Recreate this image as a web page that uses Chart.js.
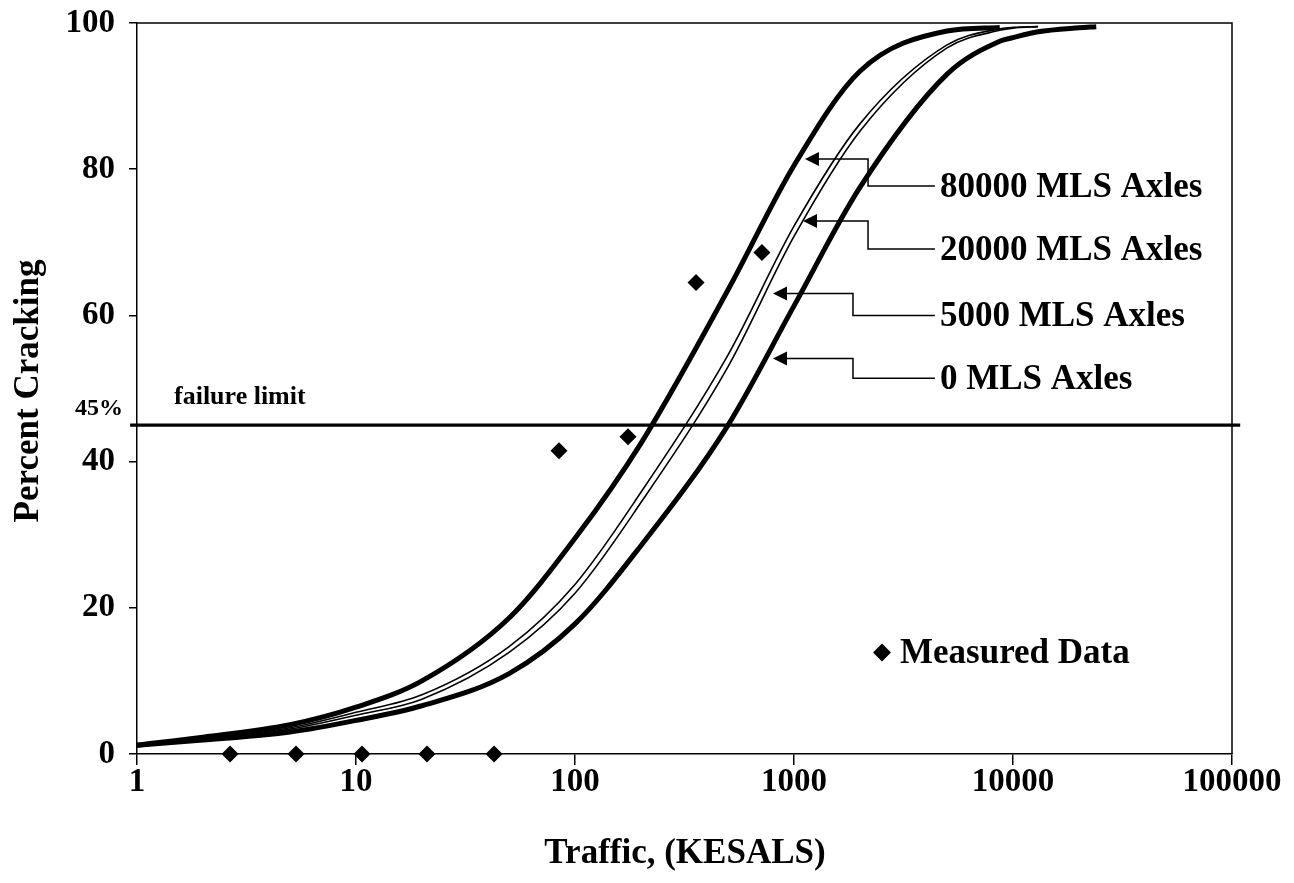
<!DOCTYPE html>
<html>
<head>
<meta charset="utf-8">
<title>Percent Cracking vs Traffic</title>
<script src="https://cdn.jsdelivr.net/npm/chart.js@4.4.0/dist/chart.umd.min.js"></script>
<style>
    html, body { margin: 0; padding: 0; background: #fff; }
    #wrap { width: 1294px; height: 883px; }
</style>
</head>
<body>
<div id="wrap"><canvas id="chart" width="1294" height="883"></canvas></div>
<script>
// ── Data ─────────────────────────────────────────────────────
const traffic       = [1, 2, 5, 10, 20, 50, 100, 200, 500, 1000, 2000, 5000, 8700, 10000, 13000, 20000, 24000];
const cracking80000 = [1.2, 2.3, 4.0, 6.4, 10.0, 18.6, 29.5, 42.5, 63.5, 80.5, 93.4, 98.9, 99.4, null, null, null, null];
const cracking20000 = [1.2, 2.05, 3.6, 5.7, 8.1, 14.7, 23.2, 35.8, 54.6, 72.2, 86.2, 97.0, 99.2, 99.4, 99.5, null, null];
const cracking5000  = [1.2, 1.95, 3.4, 5.3, 7.5, 13.9, 22.0, 34.4, 53.0, 70.8, 85.2, 96.6, 99.0, 99.3, 99.5, null, null];
const cracking0     = [1.2, 1.9, 3.0, 4.6, 6.6, 11.0, 17.8, 28.5, 45.0, 61.3, 77.5, 93.0, 97.5, 98.0, 98.8, 99.35, 99.5];

const measuredTraffic  = [2.66, 5.32, 10.65, 21.1, 42.7, 84.5, 174.6, 357, 714];
const measuredCracking = [0, 0, 0, 0, 0, 41.5, 43.4, 64.5, 68.6];

const failureTraffic = [0.93, 109000];
const failureLimit   = [45, 45];

const xTicks = [1, 10, 100, 1000, 10000, 100000];
const yTicks = [0, 20, 40, 60, 80, 100];

// callouts: arrow tip (traffic, %), elbow traffic, label level (%)
const callouts = [
    { text: '80000 MLS Axles', tip: [1122, 81.4], elbow: 2178, level: 77.7 },
    { text: '20000 MLS Axles', tip: [1099, 72.9], elbow: 2178, level: 69.1 },
    { text: '5000 MLS Axles',  tip: [802, 63.0],  elbow: 1859, level: 60.0 },
    { text: '0 MLS Axles',     tip: [802, 54.1],  elbow: 1859, level: 51.4 }
];
const labelStartTraffic = 4400;
const legendAt = [2523, 13.9];

// ── Helpers ──────────────────────────────────────────────────
const SERIF = "'Liberation Serif', 'Times New Roman', serif";

function pts(xs, ys) {
    return xs.map((x, i) => ({ x: x, y: ys[i] }));
}

function curve(label, values, width) {
    return {
        label: label,
        data: pts(traffic, values),
        borderColor: '#000',
        borderWidth: width,
        pointRadius: 0,
        fill: false,
        cubicInterpolationMode: 'monotone',
        clip: false
    };
}

function diamond(ctx, x, y, r) {
    ctx.beginPath();
    ctx.moveTo(x, y - r);
    ctx.lineTo(x + r, y);
    ctx.lineTo(x, y + r);
    ctx.lineTo(x - r, y);
    ctx.closePath();
    ctx.fill();
}

// ── Extras: frame, titles, failure text, callouts, legend ────
const extras = {
    id: 'extras',
    afterDatasetsDraw(chart) {
        const ctx = chart.ctx;
        const a = chart.chartArea;
        const xs = chart.scales.x, ys = chart.scales.y;
        ctx.save();
        ctx.fillStyle = '#000';
        ctx.strokeStyle = '#000';

        // top + right frame
        ctx.lineWidth = 1.5;
        ctx.beginPath();
        ctx.moveTo(a.left, a.top);
        ctx.lineTo(a.right, a.top);
        ctx.lineTo(a.right, a.bottom);
        ctx.stroke();

        // failure limit text
        const yf = ys.getPixelForValue(45);
        ctx.font = 'bold 26px ' + SERIF;
        ctx.textBaseline = 'alphabetic';
        ctx.textAlign = 'left';
        ctx.fillText('failure limit', a.left + 37, yf - 21);
        ctx.font = 'bold 24px ' + SERIF;
        ctx.textAlign = 'right';
        ctx.fillText('45%', a.left - 14, yf - 10);

        // callouts
        const xLab = xs.getPixelForValue(labelStartTraffic);
        ctx.lineWidth = 1.5;
        ctx.font = 'bold 35px ' + SERIF;
        ctx.textAlign = 'left';
        ctx.textBaseline = 'middle';
        callouts.forEach(c => {
            const tx = xs.getPixelForValue(c.tip[0]);
            const ty = ys.getPixelForValue(c.tip[1]);
            const ex = xs.getPixelForValue(c.elbow);
            const ly = ys.getPixelForValue(c.level);
            ctx.beginPath();
            ctx.moveTo(tx + 12, ty);
            ctx.lineTo(ex, ty);
            ctx.lineTo(ex, ly);
            ctx.lineTo(xLab, ly);
            ctx.stroke();
            ctx.beginPath();
            ctx.moveTo(tx, ty);
            ctx.lineTo(tx + 14, ty - 7);
            ctx.lineTo(tx + 14, ty + 7);
            ctx.closePath();
            ctx.fill();
            ctx.fillText(c.text, xLab + 5, ly + 2);
        });

        // legend
        const lx = xs.getPixelForValue(legendAt[0]);
        const ly = ys.getPixelForValue(legendAt[1]);
        diamond(ctx, lx, ly, 9);
        ctx.fillText('Measured Data', lx + 18, ly + 2);

        // axis titles
        ctx.font = 'bold 35px ' + SERIF;
        ctx.textAlign = 'center';
        ctx.fillText('Traffic, (KESALS)', 685, 854);
        ctx.translate(29, 391);
        ctx.rotate(-Math.PI / 2);
        ctx.fillText('Percent Cracking', 0, 0);
        ctx.restore();
    }
};

// ── Chart ────────────────────────────────────────────────────
new Chart(document.getElementById('chart'), {
    type: 'line',
    data: {
        datasets: [
            curve('80000 MLS Axles', cracking80000, 5),
            curve('20000 MLS Axles', cracking20000, 1.6),
            curve('5000 MLS Axles', cracking5000, 1.6),
            curve('0 MLS Axles', cracking0, 5),
            {
                label: 'failure limit',
                data: pts(failureTraffic, failureLimit),
                borderColor: '#000',
                borderWidth: 3.2,
                pointRadius: 0,
                clip: false
            },
            {
                label: 'Measured Data',
                data: pts(measuredTraffic, measuredCracking),
                showLine: false,
                pointStyle: 'rectRot',
                pointRadius: 8.5,
                backgroundColor: '#000',
                borderColor: '#000',
                borderWidth: 0,
                clip: false
            }
        ]
    },
    options: {
        responsive: false,
        animation: false,
        layout: { padding: { top: 23, right: 62, left: 0, bottom: 0 } },
        plugins: { legend: { display: false }, tooltip: { enabled: false } },
        scales: {
            x: {
                type: 'logarithmic',
                min: 1,
                max: 100000,
                afterBuildTicks: s => { s.ticks = xTicks.map(v => ({ value: v })); },
                afterFit: s => { s.height = 129; s.paddingLeft = 0; s.paddingRight = 0; },
                ticks: {
                    callback: v => String(v),
                    color: '#000',
                    font: { family: SERIF, size: 33, weight: 'bold' },
                    maxRotation: 0,
                    autoSkip: false,
                    padding: -2
                },
                grid: { drawOnChartArea: false, drawTicks: true, tickLength: 11, color: '#000', lineWidth: 1.5 },
                border: { display: true, color: '#000', width: 1.5 }
            },
            y: {
                min: 0,
                max: 100,
                afterBuildTicks: s => { s.ticks = yTicks.map(v => ({ value: v })); },
                afterFit: s => { s.width = 137; s.paddingTop = 0; s.paddingBottom = 0; },
                ticks: {
                    color: '#000',
                    font: { family: SERIF, size: 33, weight: 'bold' },
                    padding: 14
                },
                grid: { drawOnChartArea: false, drawTicks: true, tickLength: 8, color: '#000', lineWidth: 1.5 },
                border: { display: true, color: '#000', width: 1.5 }
            }
        }
    },
    plugins: [extras]
});
</script>
</body>
</html>
